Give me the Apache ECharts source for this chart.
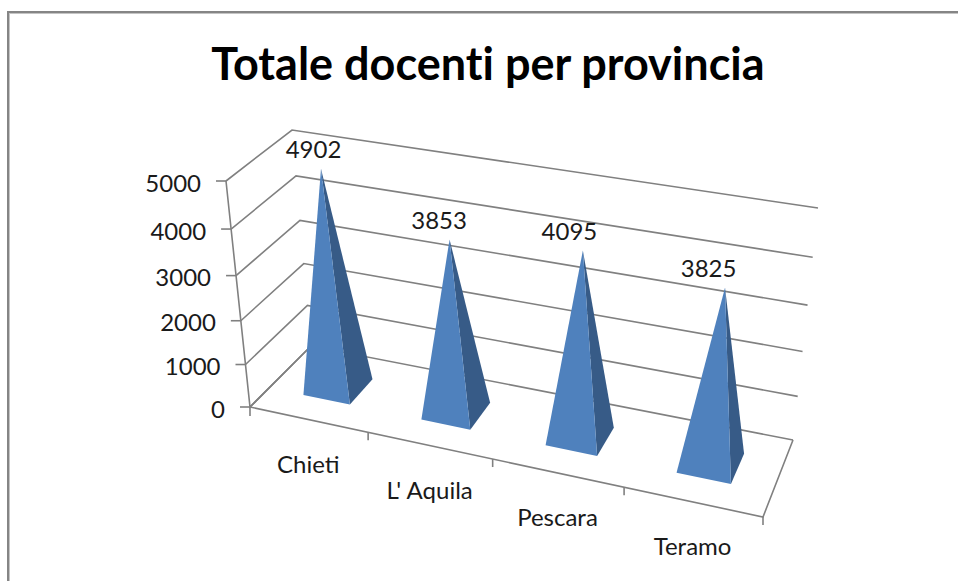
<!DOCTYPE html>
<html>
<head>
<meta charset="utf-8">
<title>Totale docenti per provincia</title>
<script src="https://cdn.jsdelivr.net/npm/echarts@6/dist/echarts.min.js"></script>
<style>
html, body { margin: 0; padding: 0; background: #fff; }
#main { width: 958px; height: 581px; }
/* Lato joins "ti" otherwise */
text { font-variant-ligatures: none; font-feature-settings: "liga" 0; }
</style>
</head>
<body>
<div id="main"></div>
<script type="text/javascript">
// data
var categories = ['Chieti', "L' Aquila", 'Pescara', 'Teramo'];
var values = [4902, 3853, 4095, 3825];
var valueTicks = [0, 1000, 2000, 3000, 4000, 5000];

var FONT = 'Lato, "Open Sans", sans-serif';
var GRID_COLOR = '#808080';

// unit square -> quad on screen (order: front-left, front-right, back-right, back-left)
function quad(p00, p10, p11, p01, warp) {
	var dx1 = p10[0] - p11[0], dy1 = p10[1] - p11[1];
	var dx2 = p01[0] - p11[0], dy2 = p01[1] - p11[1];
	var sx = p00[0] - p10[0] + p11[0] - p01[0];
	var sy = p00[1] - p10[1] + p11[1] - p01[1];
	var den = dx1 * dy2 - dx2 * dy1;
	var g = (sx * dy2 - dx2 * sy) / den;
	var h = (dx1 * sy - sx * dy1) / den;
	var a = p10[0] - p00[0] + g * p10[0], b = p01[0] - p00[0] + h * p01[0];
	var d = p10[1] - p00[1] + g * p10[1], e = p01[1] - p00[1] + h * p01[1];
	return function (u, v) {
		var s = u + warp * u * (1 - u);
		var w = g * s + h * v + 1;
		return [(a * s + b * v + p00[0]) / w, (d * s + e * v + p00[1]) / w];
	};
}

// the box of the 3D view: floor and the plane at the axis maximum
var floor = quad([250, 407], [763, 517], [793, 440], [311, 346], 0.02);
var ceil = quad([226, 181], [795, 279], [818, 208], [292, 130], 0.05);

// u along the categories, d in depth, z up the value axis (all 0..1)
function project(u, d, z) {
	var t = z / (z + 1.08 * (1 - z));
	var a = floor(u, d), b = ceil(u, d);
	return [a[0] + (b[0] - a[0]) * t, a[1] + (b[1] - a[1]) * t];
}

// position on the (hidden) cartesian axes -> u / z
function unit(api, params, cat, val) {
	var p = api.coord([cat, val]);
	var cs = params.coordSys;
	return [(p[0] - cs.x) / cs.width, (cs.y + cs.height - p[1]) / cs.height];
}

function line(points) {
	return {
		type: 'polyline',
		shape: { points: points },
		style: { fill: null, stroke: GRID_COLOR, lineWidth: 1.6 },
		silent: true
	};
}

function label(text, x, y, align) {
	return {
		type: 'text',
		x: x,
		y: y,
		style: { text: text, font: '24px ' + FONT, fill: '#1a1a1a', align: align || 'center', verticalAlign: 'middle' },
		silent: true
	};
}

// gridlines on both walls, axis ticks and value labels
function renderTick(params, api) {
	var v = api.value(1);
	var z = unit(api, params, 0, v)[1];
	var front = project(0, 0, z);
	return {
		type: 'group',
		children: [
			line([front, project(0, 1, z), project(1, 1, z)]),
			line([[front[0] - 10, front[1]], front]),
			label(String(v), front[0] - 25, front[1] + 1, 'right')
		]
	};
}

// category ticks and labels along the front edge of the floor
function renderCategory(params, api) {
	var i = api.value(0);
	var c = unit(api, params, i, 0)[0];
	var half = api.size([1, 0])[0] / params.coordSys.width / 2;
	var end = project(c + half, 0, 0);
	var mid = project(c, 0, 0);
	var children = [
		line([end, [end[0], end[1] + 8]]),
		label(categories[i], mid[0], mid[1] + 44)
	];
	if (i === 0) {
		var start = project(c - half, 0, 0);
		children.push(line([start, [start[0], start[1] + 9]]));
	}
	return { type: 'group', children: children };
}

// pyramids
function renderPyramid(params, api) {
	var i = api.value(0);
	var p = unit(api, params, i, api.value(1));
	var half = api.size([1, 0])[0] / params.coordSys.width * 0.2;
	var fl = project(p[0] - half, 0.3, 0);
	var fr = project(p[0] + half, 0.3, 0);
	var br = project(p[0] + half, 0.7, 0);
	var apex = project(p[0], 0.5, p[1]);
	return {
		type: 'group',
		children: [
			{ type: 'polygon', shape: { points: [fr, br, apex] }, style: { fill: '#375b87' } },
			{ type: 'polygon', shape: { points: [fl, fr, apex] }, style: { fill: '#4f81bd' } },
			label(String(api.value(1)), apex[0] - 6 - 12 * p[0], apex[1] - 20)
		]
	};
}

var myChart = echarts.init(document.getElementById('main'), null, { renderer: 'svg' });

var option = {
	animation: false,
	backgroundColor: '#ffffff',
	title: {
		text: 'Totale docenti per provincia',
		left: 483,
		top: 35,
		textAlign: 'center',
		textStyle: { fontFamily: FONT, fontSize: 45, fontWeight: 'bold', color: '#000000' }
	},
	grid: { left: 0, top: 0, width: 958, height: 581 },
	xAxis: { type: 'category', data: categories, show: false },
	yAxis: { type: 'value', min: 0, max: 5000, interval: 1000, show: false },
	// chart frame, cut by the window on the right and bottom
	graphic: [
		{ type: 'rect', shape: { x: 7, y: 11, width: 951, height: 2 }, style: { fill: '#858585' }, silent: true },
		{ type: 'rect', shape: { x: 7, y: 11, width: 2, height: 570 }, style: { fill: '#858585' }, silent: true },
		{ type: 'rect', shape: { x: 9, y: 13, width: 949, height: 1 }, style: { fill: '#c4c4c4' }, silent: true },
		{ type: 'rect', shape: { x: 9, y: 13, width: 1, height: 568 }, style: { fill: '#c4c4c4' }, silent: true }
	],
	series: [
		{
			type: 'custom',
			renderItem: renderTick,
			data: valueTicks.map(function (v) { return [0, v]; }),
			encode: { x: 0, y: 1 },
			silent: true
		},
		{
			type: 'custom',
			renderItem: function (params, api) {
				// floor edges and the upright axis, once
				return {
					type: 'group',
					children: [
						line([project(0, 0, 1), project(0, 0, 0), project(0, 1, 0)]),
						line([project(0, 0, 0), project(1, 0, 0), project(1, 1, 0)])
					]
				};
			},
			data: [[0, 0]],
			encode: { x: 0, y: 1 },
			silent: true
		},
		{
			type: 'custom',
			renderItem: renderCategory,
			data: categories.map(function (c, i) { return [i, 0]; }),
			encode: { x: 0, y: 1 },
			silent: true
		},
		{
			type: 'custom',
			renderItem: renderPyramid,
			data: values.map(function (v, i) { return [i, v]; }),
			encode: { x: 0, y: 1 },
			silent: true
		}
	]
};

myChart.setOption(option);
</script>
</body>
</html>
